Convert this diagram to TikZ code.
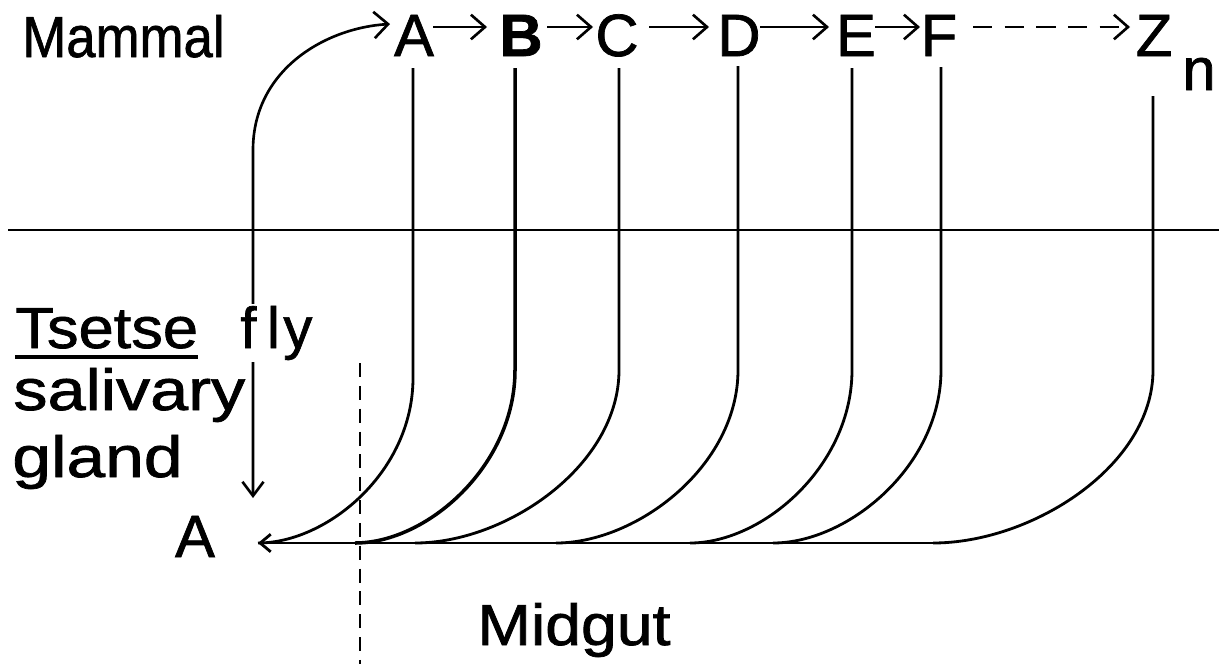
\documentclass[tikz,border=0pt]{standalone}
\usepackage{fontspec}
\usepackage{graphicx}
\setmainfont{Liberation Sans}[FakeBold=1.2]
\usetikzlibrary{arrows.meta,calc}
\begin{document}
\begin{tikzpicture}[x=0.02cm,y=-0.02cm,
  lbl/.style={inner sep=0pt, anchor=base, font=\fontsize{34}{34}\selectfont},
  lblw/.style={inner sep=0pt, anchor=base west, font=\fontsize{33}{33}\selectfont},
  flow/.style={line width=1.6pt},
  arr/.style={line width=1.5pt, -{Straight Barb[length=8pt,width=14pt]}},
  midline/.style={line width=1.1pt, dash pattern=on 8pt off 5pt}]
\useasboundingbox (0,0) rectangle (1219,664);

% top row (mammal)
\node[lblw] (mammal) at (22,57) {\scalebox{0.91}[1]{Mammal}};
\node[lbl] (mA) at (414,56) {A};
\node[lbl] (mB) at (521,56) {\bfseries B};
\node[lbl] (mC) at (617,56) {C};
\node[lbl] (mD) at (739,56) {D};
\node[lbl] (mE) at (856,56) {E};
\node[lbl] (mF) at (939,56) {F};
\node[lbl] (mZ) at (1154,56) {Z};
\node[lbl] (mn) at (1199,90) {n};

\draw[arr] ($(mA.base)+(19,-29)$) -- ($(mB.base)+(-34,-29)$);
\draw[arr] ($(mB.base)+(26,-29)$) -- ($(mC.base)+(-24,-29)$);
\draw[arr] ($(mC.base)+(32,-29)$) -- ($(mD.base)+(-30,-29)$);
\draw[arr] ($(mD.base)+(21,-29)$) -- ($(mE.base)+(-27,-29)$);
\draw[arr] ($(mE.base)+(19,-29)$) -- ($(mF.base)+(-19,-29)$);
\draw[arr, dash pattern=on 11pt off 7pt] ($(mF.base)+(34,-29)$) -- ($(mZ.base)+(-24,-29)$);

% divider
\coordinate (hL) at (8,230);
\coordinate (hR) at (1219,230);
\draw[line width=1.4pt] (hL) -- (hR);

% line tops
\coordinate (tA) at (413,68);
\coordinate (tB) at (515,68);
\coordinate (tC) at (619,68);
\coordinate (tD) at (738,66);
\coordinate (tE) at (852,68);
\coordinate (tF) at (941,67);
\coordinate (tZ) at (1153,96);
% ends on the midgut line
\coordinate (eA) at (258,543);
\coordinate (eB) at (355,543);
\coordinate (eC) at (415,543);
\coordinate (eD) at (556,543);
\coordinate (eE) at (690,543);
\coordinate (eF) at (773,543);
\coordinate (eZ) at (933,543);

\draw[flow] (tA) -- (413,378) .. controls (413,472) and (327,543) .. (eA);
\draw[flow, line width=2pt] (tB) -- (515,370) .. controls (515,466) and (427,543) .. (eB);
\draw[flow] (tC) -- (619,370) .. controls (619,466) and (506,543) .. (eC);
\draw[flow] (tD) -- (738,370) .. controls (738,466) and (637,543) .. (eD);
\draw[flow] (tE) -- (852,370) .. controls (852,466) and (763,543) .. (eE);
\draw[flow] (tF) -- (941,370) .. controls (941,466) and (848,543) .. (eF);
\draw[flow] (tZ) -- (1153,370) .. controls (1153,466) and (1032,543) .. (eZ);

% bottom A and arrow into it
\node[lbl] (bA) at (195,557) {A};
\draw[line width=1.6pt, -{Straight Barb[length=6pt,width=10pt]}] (eZ) -- (eA);

% salivary gland <-> mammal A
\coordinate (sg) at (253,498);
\draw[line width=1.5pt, {Straight Barb[length=8pt,width=12pt]}-{Straight Barb[length=8pt,width=15pt]}]
  (sg) -- (253,150) .. controls (253,70) and (325,28) .. (390,24);

% dashed boundary
\coordinate (dT) at (360,363);
\coordinate (dB) at (360,664);
\draw[midline] (dT) -- (dB);

% tsetse labels
\node[lblw] (tsetse) at (15,348) {\scalebox{1.09}[1]{Tsetse}};
\draw[line width=1.8pt] ($(tsetse.base west)+(0,9)$) -- ($(tsetse.base east)+(0,9)$);
\node[lblw, fill=white, inner ysep=1pt, inner xsep=0pt] (fly) at (240,348) {f\kern6pt l\kern2pt y};
\node[lblw] (saliv) at (13,410) {\scalebox{1.18}[1]{salivary}};
\node[lblw] (gland) at (12,477) {\scalebox{1.2}[1]{gland}};
\node[lblw] (midgut) at (477,645) {\scalebox{1.11}[1]{Midgut}};
\end{tikzpicture}
\end{document}
